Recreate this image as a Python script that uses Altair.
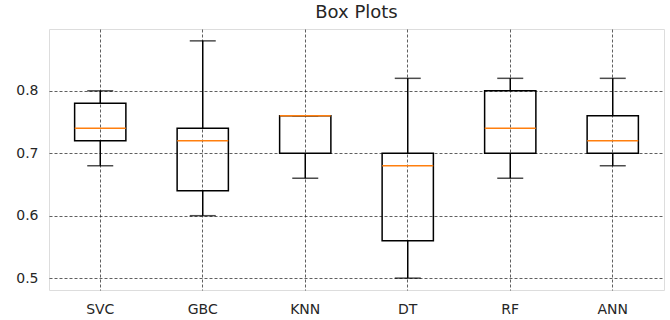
import altair as alt
import pandas as pd

# Five-number summaries of each model's scores
models = ["SVC", "GBC", "KNN", "DT", "RF", "ANN"]
whisker_low = [0.68, 0.60, 0.66, 0.50, 0.66, 0.68]
q1 = [0.72, 0.64, 0.70, 0.56, 0.70, 0.70]
median = [0.74, 0.72, 0.76, 0.68, 0.74, 0.72]
q3 = [0.78, 0.74, 0.76, 0.70, 0.80, 0.76]
whisker_high = [0.80, 0.88, 0.76, 0.82, 0.82, 0.82]
y_ticks = [0.5, 0.6, 0.7, 0.8]

df = pd.DataFrame({
    "model": models,
    "lo": whisker_low,
    "q1": q1,
    "med": median,
    "q3": q3,
    "hi": whisker_high,
})

FONT = "DejaVu Sans"
GRID = dict(gridColor="#222222", gridDash=[3, 2], gridWidth=0.8, gridOpacity=0.9)

x = alt.X(
    "model:N",
    sort=models,
    scale=alt.Scale(paddingInner=0, paddingOuter=0),
    axis=alt.Axis(
        title=None, labelAngle=0, tickSize=0, labelPadding=12,
        labelFontSize=14, labelColor="#262626", labelFont=FONT,
        domain=False, grid=True, bandPosition=0.5, **GRID,
    ),
)
y_scale = alt.Scale(domain=[0.481, 0.899], nice=False, zero=False)
y_axis = alt.Axis(
    title=None, values=y_ticks, format=".1f", tickSize=0, labelPadding=11,
    labelFontSize=14, labelColor="#262626", labelFont=FONT,
    domain=False, grid=True, **GRID,
)

base = alt.Chart(df).encode(x=x)

whiskers_low = base.mark_rule(color="black", strokeWidth=1.5).encode(
    y=alt.Y("lo:Q", scale=y_scale, axis=y_axis), y2="q1:Q"
)
whiskers_high = base.mark_rule(color="black", strokeWidth=1.5).encode(
    y=alt.Y("q3:Q", scale=y_scale), y2="hi:Q"
)
boxes = base.mark_bar(
    width=alt.RelativeBandSize(0.5), fillOpacity=0, stroke="black", strokeWidth=1.5
).encode(y=alt.Y("q1:Q", scale=y_scale), y2="q3:Q")
cap_low = base.mark_tick(size=26, thickness=1.5, color="black").encode(
    y=alt.Y("lo:Q", scale=y_scale)
)
cap_high = base.mark_tick(size=26, thickness=1.5, color="black").encode(
    y=alt.Y("hi:Q", scale=y_scale)
)
medians = base.mark_tick(size=51, thickness=1.5, color="#ff7f0e", opacity=1).encode(
    y=alt.Y("med:Q", scale=y_scale)
)

chart = (
    alt.layer(whiskers_low, whiskers_high, boxes, cap_low, cap_high, medians)
    .properties(
        width=615,
        height=261,
        title=alt.TitleParams("Box Plots", fontSize=18, font=FONT, fontWeight="normal",
                              color="#262626", offset=7),
        autosize=alt.AutoSizeParams(type="none"),
        padding={"left": 49, "top": 29, "right": 6, "bottom": 30},
    )
    .configure_view(stroke="#d0d0d0", strokeWidth=1.5)
    .configure(background="white")
)

chart.save("out.html", embed_options={"renderer": "svg", "actions": False})
